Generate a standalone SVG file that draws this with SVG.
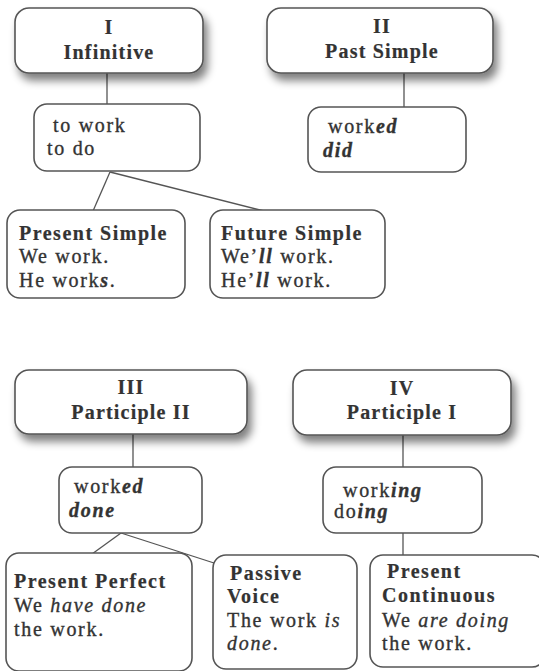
<svg xmlns="http://www.w3.org/2000/svg" width="539" height="671" viewBox="0 0 539 671">
  <defs>
    <filter id="shadow" x="-10%" y="-20%" width="130%" height="170%">
      <feGaussianBlur in="SourceAlpha" stdDeviation="4"/>
      <feOffset dx="4" dy="7" result="b"/>
      <feComponentTransfer><feFuncA type="linear" slope="0.5"/></feComponentTransfer>
      <feMerge><feMergeNode/><feMergeNode in="SourceGraphic"/></feMerge>
    </filter>
  </defs>
  <style>
    .box { fill: #ffffff; stroke: #555555; stroke-width: 1.6; }
    .main { filter: url(#shadow); }
    .conn { stroke: #555555; stroke-width: 1.3; fill: none; }
    text { font-family: "Liberation Serif", "Times New Roman", serif; font-size: 20px; letter-spacing: 1.7px; fill: #333333; stroke: #333333; stroke-width: 0.35px; }
    .b { font-weight: bold; stroke-width: 0.2px; letter-spacing: 1.5px; }
    .t { font-weight: bold; text-anchor: middle; stroke-width: 0.2px; letter-spacing: 1.2px; }
    .i { font-style: italic; }
    .bi { font-style: italic; font-weight: bold; }
  </style>
  <rect width="539" height="671" fill="#ffffff"/>

  <g id="connectors">
    <line class="conn" x1="107" y1="73" x2="107" y2="104"/>
    <line class="conn" x1="404" y1="73" x2="404" y2="107"/>
    <line class="conn" x1="110" y1="172" x2="93" y2="211"/>
    <line class="conn" x1="110" y1="172" x2="264" y2="211"/>
    <line class="conn" x1="133" y1="434" x2="133" y2="467"/>
    <line class="conn" x1="121" y1="533" x2="92" y2="554"/>
    <line class="conn" x1="121" y1="533" x2="214" y2="563"/>
    <line class="conn" x1="403" y1="435" x2="403" y2="467"/>
    <line class="conn" x1="403" y1="533" x2="403" y2="555"/>
  </g>

  <g id="node-infinitive">
    <rect class="box main" x="15" y="8" width="188" height="65" rx="14"/>
    <text class="t" x="109" y="34">I</text>
    <text class="t" x="109" y="59">Infinitive</text>
  </g>

  <g id="node-past-simple">
    <rect class="box main" x="267" y="8" width="226" height="65" rx="14"/>
    <text class="t" x="382" y="33">II</text>
    <text class="t" x="382" y="58">Past Simple</text>
  </g>

  <g id="node-to-work">
    <rect class="box" x="34" y="104" width="166" height="67" rx="13"/>
    <text x="53" y="132">to work</text>
    <text x="47" y="155">to do</text>
  </g>

  <g id="node-worked-did">
    <rect class="box" x="308" y="107" width="158" height="65" rx="13"/>
    <text x="328" y="133">work<tspan class="bi">ed</tspan></text>
    <text x="323" y="157"><tspan class="bi">did</tspan></text>
  </g>

  <g id="node-present-simple">
    <rect class="box" x="7" y="210" width="178" height="88" rx="13"/>
    <text class="b" x="19" y="240">Present Simple</text>
    <text x="19" y="263">We work.</text>
    <text x="19" y="287">He work<tspan class="bi">s</tspan>.</text>
  </g>

  <g id="node-future-simple">
    <rect class="box" x="210" y="210" width="175" height="88" rx="13"/>
    <text class="b" x="221" y="240">Future Simple</text>
    <text x="221" y="263">We’<tspan class="bi">ll</tspan> work.</text>
    <text x="221" y="287">He’<tspan class="bi">ll</tspan> work.</text>
  </g>

  <g id="node-participle-ii">
    <rect class="box main" x="15" y="370" width="232" height="64" rx="14"/>
    <text class="t" x="131" y="394">III</text>
    <text class="t" x="131" y="419">Participle II</text>
  </g>

  <g id="node-participle-i">
    <rect class="box main" x="293" y="370" width="218" height="65" rx="14"/>
    <text class="t" x="402" y="395">IV</text>
    <text class="t" x="402" y="419">Participle I</text>
  </g>

  <g id="node-worked-done">
    <rect class="box" x="59" y="467" width="143" height="66" rx="13"/>
    <text x="74" y="493">work<tspan class="bi">ed</tspan></text>
    <text x="69" y="517"><tspan class="bi">done</tspan></text>
  </g>

  <g id="node-working-doing">
    <rect class="box" x="323" y="467" width="159" height="66" rx="13"/>
    <text x="343" y="497">work<tspan class="bi">ing</tspan></text>
    <text x="334" y="518">do<tspan class="bi">ing</tspan></text>
  </g>

  <g id="node-present-perfect">
    <rect class="box" x="6" y="553" width="186" height="118" rx="13"/>
    <text class="b" x="14" y="588">Present Perfect</text>
    <text x="14" y="612">We <tspan class="i">have done</tspan></text>
    <text x="14" y="636">the work.</text>
  </g>

  <g id="node-passive-voice">
    <rect class="box" x="213" y="555" width="144" height="114" rx="13"/>
    <text class="b" x="230" y="580">Passive</text>
    <text class="b" x="227" y="603">Voice</text>
    <text x="227" y="627">The work <tspan class="i">is</tspan></text>
    <text x="227" y="650"><tspan class="i">done</tspan>.</text>
  </g>

  <g id="node-present-continuous">
    <rect class="box" x="370" y="555" width="175" height="112" rx="13"/>
    <text class="b" x="387" y="578">Present</text>
    <text class="b" x="382" y="602">Continuous</text>
    <text x="382" y="627">We <tspan class="i">are doing</tspan></text>
    <text x="382" y="650">the work.</text>
  </g>
</svg>
